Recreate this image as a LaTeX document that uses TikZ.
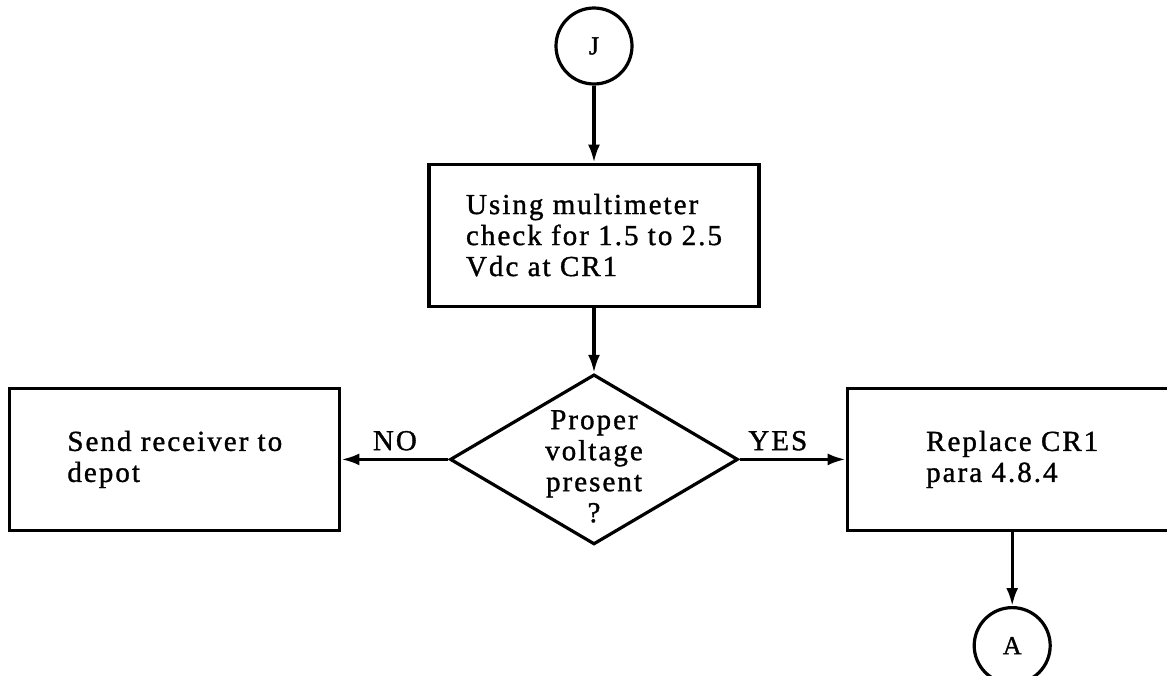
\documentclass[tikz,border=0pt]{standalone}
\usepackage{fontspec}
\setmainfont{Liberation Serif}[LetterSpace=7, FakeBold=1.2]
\usetikzlibrary{shapes.geometric, positioning, arrows.meta}

\tikzset{
  box/.style={draw, minimum width=330pt, minimum height=142pt, align=left},
  conn/.style={draw, circle, minimum size=76pt, inner sep=0pt, font=\fontsize{26}{28}\selectfont},
  decision/.style={draw, diamond, minimum width=288pt, minimum height=170pt, inner sep=0pt}
}

\begin{document}
\begin{tikzpicture}[x=1pt, y=-1pt, ->, >={Latex[length=18pt,width=12pt]}, line width=3.2pt, font=\fontsize{29}{31}\selectfont]
\useasboundingbox (0,0) rectangle (1167,675);
%
\node [conn] (J) at (594,46) {J};
\node [box, below = 77pt of J] (check) {Using multimeter\\check for 1.5 to 2.5\\Vdc at CR1};
\draw (J) -- (check);
\node [decision, below = 65pt of check] (dec) {};
\node [align=center] (dectext) at ([yshift=-7pt]dec.center) {Proper\\voltage\\present\\?};
\draw (check) -- (dec);
%
\node [box, left = 107pt of dec] (depot) {Send receiver to\\depot};
\path (dec) edge node [above=4pt] {NO} (depot);
\node [box, right = 106pt of dec] (repl) {Replace CR1\\para 4.8.4};
\path (dec) edge node [above=4pt, pos=0.36] {YES} (repl);
\node [conn, below = 74pt of repl] (A) {A};
\draw (repl) -- (A);
\end{tikzpicture}
\end{document}
